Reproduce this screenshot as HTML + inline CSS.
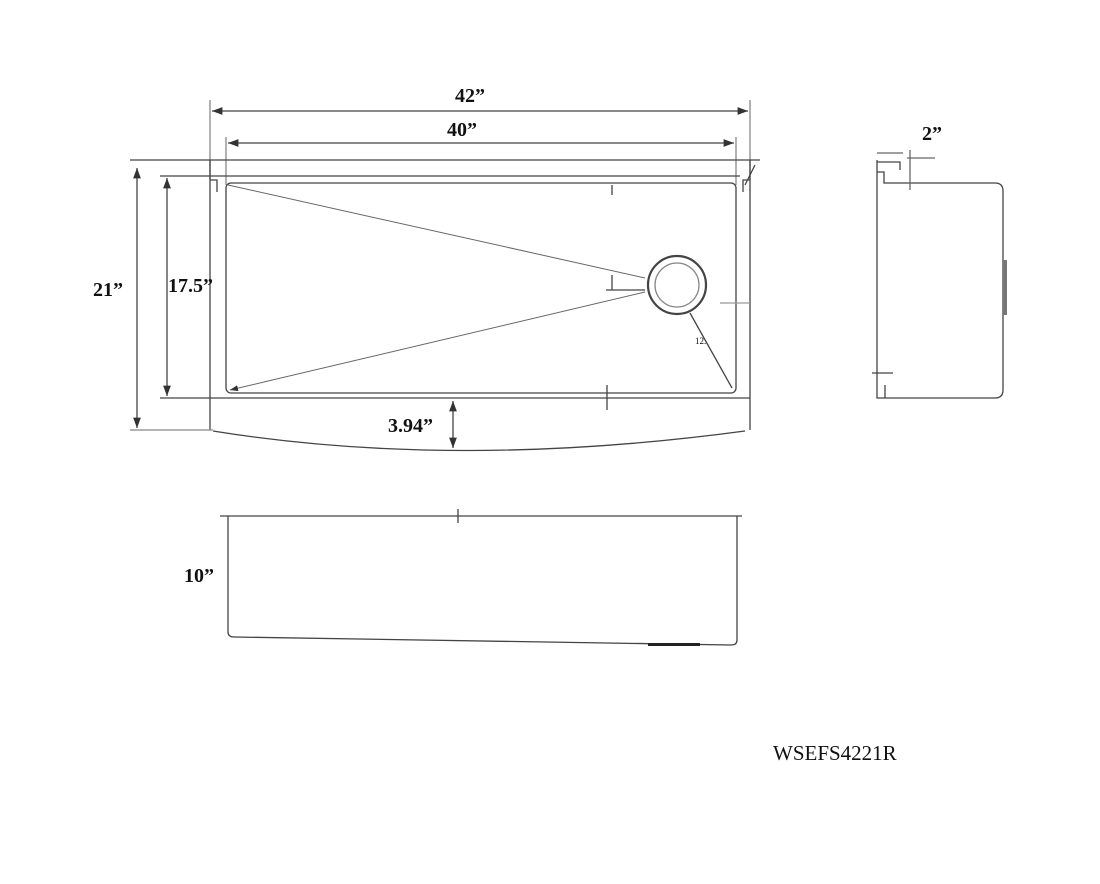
<!DOCTYPE html>
<html><head><style>
body{margin:0;background:#fff}
svg{display:block}
text{font-family:"Liberation Serif",serif;font-weight:bold;fill:#111}
</style></head><body>
<svg width="1100" height="884" viewBox="0 0 1100 884" xmlns="http://www.w3.org/2000/svg">
<defs><marker id="a" markerWidth="8" markerHeight="6" refX="8" refY="3" orient="auto-start-reverse"><path d="M0,0 L8,3 L0,6z" fill="#333"/></marker></defs>
<g stroke="#444" stroke-width="1.3" fill="none">
<line x1="210" y1="100" x2="210" y2="180" stroke="#888"/>
<line x1="750" y1="100" x2="750" y2="180" stroke="#888"/>
<line x1="212" y1="111" x2="748" y2="111" marker-start="url(#a)" marker-end="url(#a)"/>
<line x1="226" y1="137" x2="226" y2="185" stroke="#888"/>
<line x1="736" y1="137" x2="736" y2="185" stroke="#888"/>
<line x1="228" y1="143" x2="734" y2="143" marker-start="url(#a)" marker-end="url(#a)"/>
<line x1="130" y1="160" x2="760" y2="160"/>
<line x1="160" y1="176" x2="740" y2="176"/>
<path d="M210 160 V430 M750 160 V430"/>
<path d="M210 180 H217 V192 M750 180 H743 V192"/>
<rect x="226" y="183" width="510" height="210" rx="5"/>
<line x1="160" y1="398" x2="750" y2="398"/>
<path d="M213 431 Q455 470 745 431"/>
<line x1="137" y1="168" x2="137" y2="428" marker-start="url(#a)" marker-end="url(#a)"/>
<line x1="130" y1="430" x2="213" y2="430" stroke="#888"/>
<line x1="167" y1="178" x2="167" y2="396" marker-start="url(#a)" marker-end="url(#a)"/>
<line x1="453" y1="401" x2="453" y2="448" marker-start="url(#a)" marker-end="url(#a)"/>
<line x1="228" y1="185" x2="645" y2="278" stroke="#666" stroke-width="1"/>
<line x1="645" y1="292" x2="230" y2="390" stroke="#666" stroke-width="1" marker-end="url(#a)"/>
<circle cx="677" cy="285" r="29" stroke-width="2.2"/>
<circle cx="677" cy="285" r="22" stroke="#888"/>
<line x1="690" y1="313" x2="732" y2="388"/>
<path d="M612 185 V195 M612 275 V290 M606 290 H645 M607 385 V410 M755 165 L745 185"/>
<line x1="720" y1="303" x2="750" y2="303" stroke="#999"/>
<path d="M877 160 V398 H885 V385 M877 162 H900 V170 M877 172 H884 V183 H995 Q1003 183 1003 191 V390 Q1003 398 995 398 H885"/>
<path d="M877 153 H903 M910 150 V190 M907 158 H935" stroke="#666"/>
<rect x="1003" y="260" width="4" height="55" fill="#777" stroke="none"/>
<path d="M872 373 H893" />
<line x1="220" y1="516" x2="742" y2="516"/>
<path d="M228 516 V632 Q228 637 234 637 L731 645 Q737 645 737 640 V516"/>
<line x1="458" y1="509" x2="458" y2="523"/>
<rect x="648" y="643" width="52" height="3" fill="#222" stroke="none"/>
</g>
<text x="455" y="102" font-size="20">42”</text>
<text x="447" y="136" font-size="20">40”</text>
<text x="93" y="296" font-size="20">21”</text>
<text x="168" y="292" font-size="20">17.5”</text>
<text x="388" y="432" font-size="20">3.94”</text>
<text x="922" y="140" font-size="20">2”</text>
<text x="184" y="582" font-size="20">10”</text>
<text x="695" y="344" font-size="9" style="font-weight:normal">12.</text>
<text x="773" y="760" font-size="21" style="font-weight:normal">WSEFS4221R</text>
</svg>
</body></html>
